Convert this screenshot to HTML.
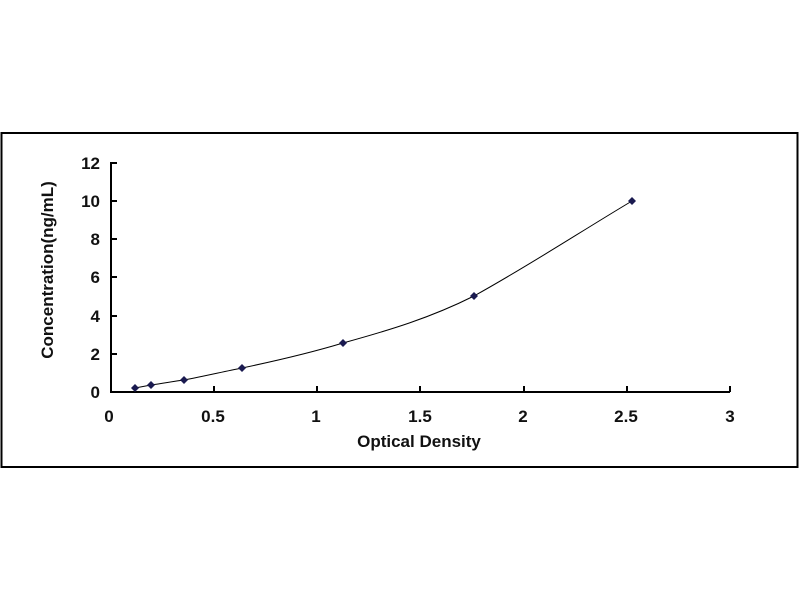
<!DOCTYPE html>
<html><head><meta charset="utf-8"><style>
html,body{margin:0;padding:0;background:#fff;}
svg{display:block;}
text{font-family:"Liberation Sans",Arial,sans-serif;font-weight:bold;fill:#111;}
</style></head><body>
<svg width="800" height="600" viewBox="0 0 800 600">
<rect x="1.5" y="133" width="796" height="334" fill="#fff" stroke="#000" stroke-width="2"/>
<g stroke="#000" stroke-width="2" fill="none">
<line x1="111" y1="162" x2="111" y2="392"/>
<line x1="110" y1="392" x2="730" y2="392"/>
<line x1="111" y1="163" x2="117" y2="163"/>
<line x1="111" y1="201" x2="117" y2="201"/>
<line x1="111" y1="239" x2="117" y2="239"/>
<line x1="111" y1="277" x2="117" y2="277"/>
<line x1="111" y1="316" x2="117" y2="316"/>
<line x1="111" y1="354" x2="117" y2="354"/>
<line x1="214" y1="386" x2="214" y2="392"/>
<line x1="317" y1="386" x2="317" y2="392"/>
<line x1="420" y1="386" x2="420" y2="392"/>
<line x1="524" y1="386" x2="524" y2="392"/>
<line x1="627" y1="386" x2="627" y2="392"/>
<line x1="730" y1="386" x2="730" y2="392"/>
</g>
<g font-size="17" text-anchor="end">
<text x="100" y="169">12</text><text x="100" y="207">10</text><text x="100" y="245">8</text>
<text x="100" y="283">6</text><text x="100" y="322">4</text><text x="100" y="360">2</text><text x="100" y="398">0</text>
</g>
<g font-size="17" text-anchor="middle">
<text x="109" y="422">0</text><text x="213" y="422">0.5</text><text x="316" y="422">1</text>
<text x="420" y="422">1.5</text><text x="523" y="422">2</text><text x="626" y="422">2.5</text><text x="730" y="422">3</text>
</g>
<text x="419" y="447" font-size="17" text-anchor="middle">Optical Density</text>
<text transform="translate(53,270) rotate(-90)" font-size="17" text-anchor="middle">Concentration(ng/mL)</text>
<path d="M135,388 L151,385 C165,383 175,381 184,380 C205,376 222,372 242,368 C280,360 310,353 343,343 C390,330 430,318 474,296 C530,265 580,232 632,201" fill="none" stroke="#000" stroke-width="1"/>
<g fill="#1a1a50">
<path d="M135,384 l4,4 l-4,4 l-4,-4z"/>
<path d="M151,381 l4,4 l-4,4 l-4,-4z"/>
<path d="M184,376 l4,4 l-4,4 l-4,-4z"/>
<path d="M242,364 l4,4 l-4,4 l-4,-4z"/>
<path d="M343,339 l4,4 l-4,4 l-4,-4z"/>
<path d="M474,292 l4,4 l-4,4 l-4,-4z"/>
<path d="M632,197 l4,4 l-4,4 l-4,-4z"/>
</g>
</svg>
</body></html>
